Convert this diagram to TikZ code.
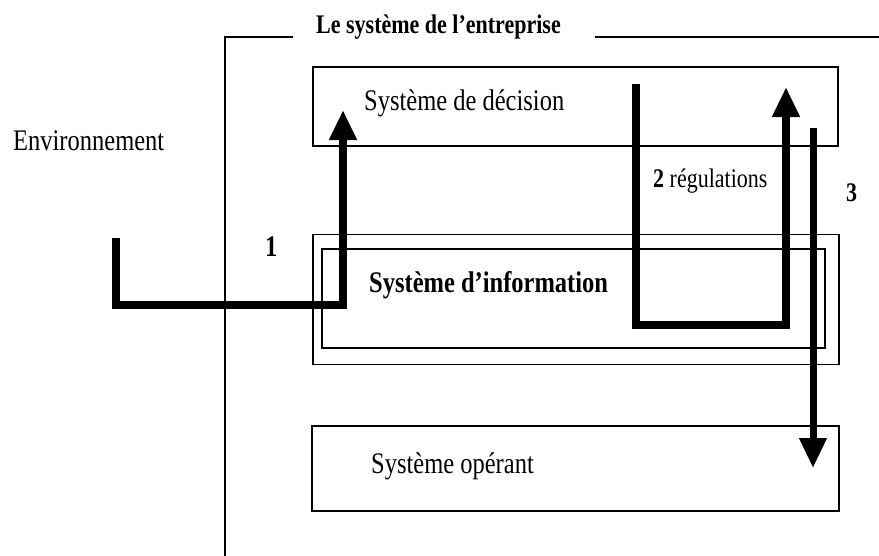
\documentclass[tikz,border=0pt]{standalone}
\usepackage{fontspec}
\setmainfont{Liberation Serif}
\usetikzlibrary{arrows.meta}

% tall serif lettering
\newcommand{\tallt}[1]{\scalebox{1}[1.22]{#1}}

\tikzset{
  sysbox/.style={draw, line width=1.6pt, inner sep=0pt},
  lbl/.style={inner sep=0pt, anchor=base west, font=\fontsize{24.5}{28}\selectfont},
  lblb/.style={lbl, font=\fontsize{24.5}{28}\selectfont\bfseries},
  flow/.style={line width=8pt, line cap=butt, line join=miter,
    -{Triangle[length=30pt,width=26pt]}},
  frame/.style={line width=1.8pt}
}

\begin{document}
\begin{tikzpicture}[x=1pt,y=-1pt]
\useasboundingbox (0,0) rectangle (879,555);

% enterprise frame with its title
\node[lblb, font=\fontsize{22}{26}\selectfont\bfseries] (titre) at (316,33) {\tallt{Le système de l’entreprise}};
\coordinate (fa) at (293,37);
\coordinate (fb) at (225,37);
\coordinate (fc) at (225,558);
\coordinate (fd) at (595,37);
\coordinate (fe) at (882,37);
\draw[frame] (fa) -- (fb) -- (fc);
\draw[frame] (fd) -- (fe);

% subsystems
\node[sysbox, minimum width=525pt, minimum height=79pt] (decision) at (575.5,106.5) {};
\node[sysbox, minimum width=526pt, minimum height=130pt] (infoout) at (576,299.5) {};
\node[sysbox, minimum width=503pt, minimum height=99pt] (infoin) at (573.5,298.5) {};
\node[sysbox, minimum width=527pt, minimum height=85pt] (operant) at (575.5,468.5) {};

% labels
\node[lbl] (tdec) at (364,110) {\tallt{Système de décision}};
\node[lbl] (tenv) at (13,150) {\tallt{Environnement}};
\node[lblb] (tinfo) at (369,292) {\tallt{Système d’information}};
\node[lbl] (tope) at (371,473) {\tallt{Système opérant}};
\node[lblb] (n1) at (265,256) {\tallt{1}};
\node[lbl, font=\fontsize{22}{26}\selectfont] (treg) at (653,187) {\tallt{\textbf{2} régulations}};
\node[lblb, font=\fontsize{22}{26}\selectfont\bfseries] (n3) at (846,201) {\tallt{3}};

% flows
\coordinate (e1) at (116,238);
\coordinate (c1) at (343,305);
\coordinate (t1) at (343,110);
\draw[flow] (e1) |- (c1) -- (t1);

\coordinate (e2) at (636,84);
\coordinate (c2) at (786,325);
\coordinate (t2) at (786,87);
\draw[flow] (e2) |- (c2) -- (t2);

\coordinate (e3) at (813,128);
\coordinate (t3) at (813,468);
\draw[flow, line width=7pt] (e3) -- (t3);
\end{tikzpicture}
\end{document}
